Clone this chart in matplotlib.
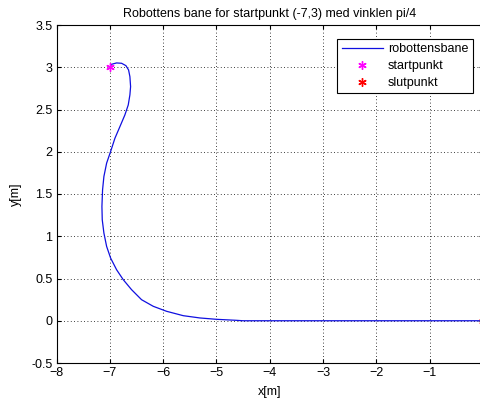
import matplotlib
matplotlib.use("Agg")
import matplotlib.pyplot as plt
import numpy as np

plt.rcParams['font.family'] = ['Liberation Sans', 'DejaVu Sans']

# robot path
path_x = [-7.0, -6.969, -6.875, -6.781, -6.70, -6.65, -6.625, -6.612, -6.625, -6.656,
          -6.719, -6.812, -6.906, -6.987, -7.062, -7.113, -7.138, -7.15, -7.144, -7.113,
          -7.062, -6.987, -6.875, -6.75, -6.594, -6.406, -6.187, -5.937, -5.624, -5.311,
          -4.999, -4.624, -4.5, -3.0, -1.0, 0.0]
path_y = [3.0, 3.035, 3.051, 3.047, 3.019, 2.968, 2.889, 2.771, 2.673, 2.554,
          2.436, 2.298, 2.160, 2.003, 1.865, 1.707, 1.550, 1.353, 1.195, 1.038,
          0.880, 0.742, 0.604, 0.486, 0.368, 0.249, 0.171, 0.112, 0.060, 0.033,
          0.017, 0.005, 0.0, 0.0, 0.0, 0.0]
start = (-7, 3)
end = (0, 0)

fig = plt.figure(figsize=(4.8, 4.0), dpi=100)
ax = fig.add_axes([0.118, 0.0925, 0.888, 0.845])

star = (6, 2, 0)
ax.plot(path_x, path_y, color='#1010e0', lw=0.9, label='robottensbane')
ax.plot(start[0], start[1], linestyle='none', marker=star, color='magenta',
        ms=6, mew=1, label='startpunkt')
ax.plot(end[0], end[1], linestyle='none', marker=star, color='red',
        ms=6, mew=1, label='slutpunkt')

ax.set_xlim(-8, 0)
ax.set_ylim(-0.5, 3.5)
ax.set_xticks(np.arange(-8, 1, 1))
ax.set_yticks(np.arange(-0.5, 3.6, 0.5))
ax.set_yticklabels(['-0.5', '0', '0.5', '1', '1.5', '2', '2.5', '3', '3.5'])
ax.tick_params(direction='in', labelsize=9, length=3, top=True, right=True, pad=3)
ax.grid(True, color='black', linestyle=(0, (1, 3)), lw=0.6)
for s in ax.spines.values():
    s.set_linewidth(0.8)

ax.set_title('Robottens bane for startpunkt (-7,3) med vinklen pi/4', fontsize=9, pad=6)
ax.set_xlabel('x[m]', fontsize=9, labelpad=5)
ax.set_ylabel('y[m]', fontsize=9, labelpad=7)

leg = ax.legend(loc='upper right', bbox_to_anchor=(0.991, 0.978), fontsize=9,
                fancybox=False, framealpha=1, edgecolor='black',
                borderpad=0.35, labelspacing=0.4, handlelength=3.3, handletextpad=0.4)
leg.get_frame().set_linewidth(0.8)

fig.savefig('out.png', dpi=100)
